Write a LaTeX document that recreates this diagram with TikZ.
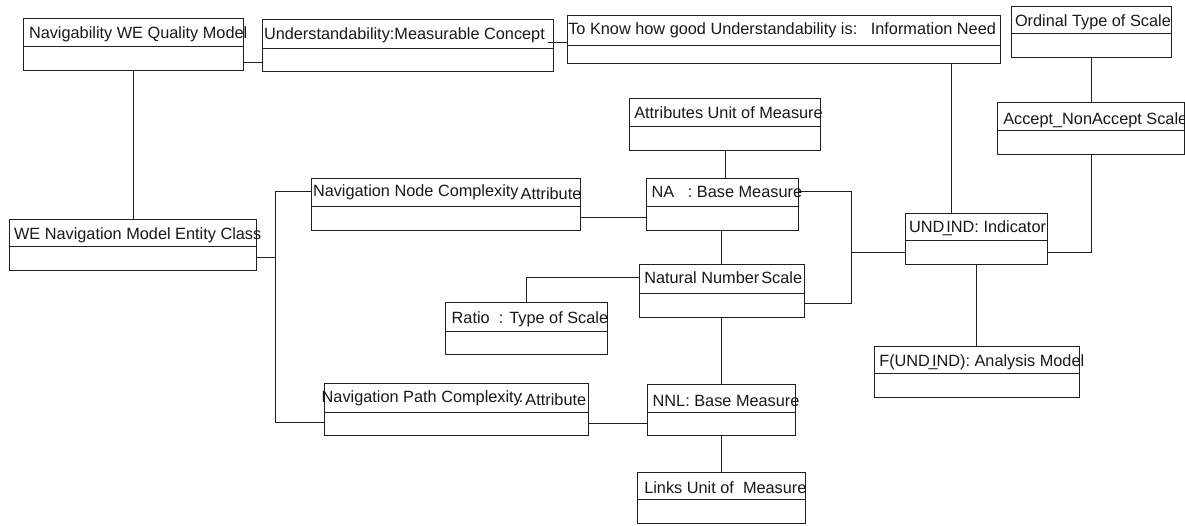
\documentclass[tikz,border=0pt]{standalone}
\usepackage{fontspec}
\setmainfont{Liberation Sans}
% class box: name, x1, y1, x2, y of divider, y2, text x, text baseline, text
\newcommand{\classbox}[9]{%
  \node[boxframe, anchor=north west, minimum width={(#4-#2)*1pt}, minimum height={(#6-#3)*1pt}] (#1) at (#2,#3) {};
  \draw[link] (#2,#5) -- (#4,#5);
  \node[boxtext] (#1-name) at (#7,#8) {#9};
}
\newcommand{\undind}{UND\kern-1.5pt\_\kern-5.5pt IND}
\begin{document}
\begin{tikzpicture}[x=1pt,y=-1pt,
  boxframe/.style={draw=black!88, line width=1pt, inner sep=0pt, outer sep=0pt},
  boxtext/.style={inner sep=0pt, outer sep=0pt, anchor=base west, text=black!90, font=\fontsize{16.3}{19}\selectfont},
  link/.style={draw=black!88, line width=1pt}]
\useasboundingbox[fill=white] (0,0) rectangle (1185,525);

% classes
\classbox{qm}{23.7}{18.3}{243.7}{46}{70}{29}{38.3}{Navigability WE Quality Model}
\classbox{mc}{262.7}{19}{553.3}{48.3}{71.7}{264}{39}{Understandability:Measurable Concept}
\classbox{in}{567.3}{15}{1000}{45.7}{63.3}{568.3}{34.3}{To Know how good Understandability is:\ \ \ Information Need}
\classbox{os}{1011}{6}{1171.7}{33.3}{57.7}{1015}{26.7}{Ordinal Type of Scale}
\classbox{au}{629}{98.3}{820}{126}{150}{634.3}{118.3}{Attributes Unit of Measure}
\classbox{ac}{997.3}{102.7}{1184.3}{130.7}{154}{1003.3}{124}{Accept\_NonAccept Scale}
\classbox{ec}{9.3}{219}{256.7}{246.7}{270.3}{14}{239.3}{WE Navigation Model Entity Class}
\classbox{nn}{311.7}{178.3}{580}{206}{230}{313}{196}{Navigation Node Complexity\kern2pt\raisebox{-3pt}{Attribute}}
\classbox{na}{646.7}{178.3}{798.3}{206}{230}{651.7}{197.7}{NA\ \ \ : Base Measure}
\classbox{ind}{905.7}{213.3}{1047.3}{240}{264.7}{909}{232.3}{\undind: Indicator}
\classbox{ns}{639.3}{264.7}{804}{293}{317}{644.3}{283.7}{Natural Number\kern2pt Scale}
\classbox{rt}{445.7}{302.7}{607.3}{331}{354.3}{451.7}{323.7}{Ratio\ \ : Type of Scale}
\classbox{np}{324.7}{383.7}{588.3}{412}{435.3}{321.7}{402}{Navigation Path Complexity\kern-3pt:\kern2pt\raisebox{-3.3pt}{Attribute}}
\classbox{nnl}{647.3}{384.3}{795}{412}{435.3}{652.7}{406.3}{NNL: Base Measure}
\classbox{lk}{637.7}{472}{805}{499.7}{523}{644.3}{493}{Links Unit of\ \ Measure}
\classbox{am}{874.3}{346}{1079.3}{373.7}{397.7}{879.3}{366.3}{F(\undind): Analysis Model}

% associations
\draw[link] (qm.east |- 0,62) -- (mc.west |- 0,62);
\draw[link] ([xshift=-5.6pt]mc.east |- 0,42.7) -- (in.west |- 0,42.7);
\draw[link] (133.7,0 |- qm.south) -- (133.7,0 |- ec.north);
\draw[link] (ec.east |- 0,257.7) -| (275.3,191.3) -- (nn.west |- 0,191.3);
\draw[link] (275.3,257.7) |- (np.west |- 0,422.7);
\draw[link] (nn.east |- 0,217.3) -- (na.west |- 0,217.3);
\draw[link] (725,0 |- au.south) -- (725,0 |- na.north);
\draw[link] (721.7,0 |- na.south) -- (721.7,0 |- ns.north);
\draw[link] (na.east |- 0,191.7) -| (851.7,303.7) -- (ns.east |- 0,303.7);
\draw[link] (851.7,252.3) -- (ind.west |- 0,252.3);
\draw[link] (951.7,0 |- in.south) -- (951.7,0 |- ind.north);
\draw[link] (1091.7,0 |- os.south) -- (1091.7,0 |- ac.north);
\draw[link] (1091.7,0 |- ac.south) |- (ind.east |- 0,252.3);
\draw[link] (ns.west |- 0,277.7) -| (526.7,0 |- rt.north);
\draw[link] (721.7,0 |- ns.south) -- (721.7,0 |- nnl.north);
\draw[link] (np.east |- 0,423) -- (nnl.west |- 0,423);
\draw[link] (721.7,0 |- nnl.south) -- (721.7,0 |- lk.north);
\draw[link] (976.7,0 |- ind.south) -- (976.7,0 |- am.north);
\end{tikzpicture}
\end{document}
